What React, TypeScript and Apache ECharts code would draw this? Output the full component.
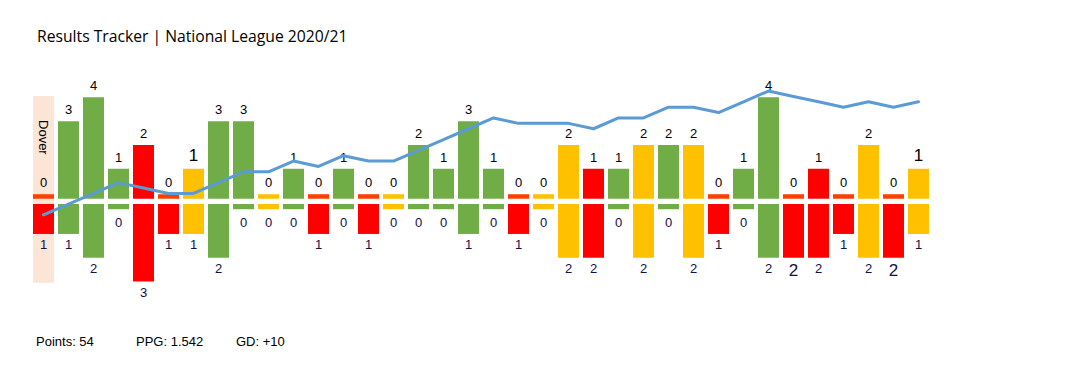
import React, { useEffect, useRef } from "react";
import * as echarts from "echarts";

// ---- data ----
const matches = Array.from({ length: 36 }, (_, i) => String(i + 1));
const goalsFor = [0, 3, 4, 1, 2, 0, 1, 3, 3, 0, 1, 0, 1, 0, 0, 2, 1, 3, 1, 0, 0, 2, 1, 1, 2, 2, 2, 0, 1, 4, 0, 1, 0, 2, 0, 1];
const goalsAgainst = [1, 1, 2, 0, 3, 1, 1, 2, 0, 0, 0, 1, 0, 1, 0, 0, 0, 1, 0, 1, 0, 2, 2, 0, 2, 0, 2, 1, 0, 2, 2, 2, 1, 2, 2, 1];
const results = ["L", "W", "W", "W", "L", "L", "D", "W", "W", "D", "W", "L", "W", "L", "D", "W", "W", "W", "W", "L", "D", "D", "L", "W", "D", "W", "D", "L", "W", "W", "L", "L", "L", "D", "L", "D"];
const formLine = [-1, 1, 3, 5, 4, 3, 3, 5, 7, 7, 9, 8, 10, 9, 9, 11, 13, 15, 17, 16, 16, 16, 15, 17, 17, 19, 19, 18, 20, 22, 21, 20, 19, 20, 19, 20];
const highlightIndex = 0;
const highlightOpponent = "Dover";
const titleText = "Results Tracker | National League 2020/21";
const points = 54;
const ppg = "1.542";
const gd = "+10";

// ---- styles ----
const resultColor: Record<string, string> = { W: "#70AD47", L: "#FF0000", D: "#FFC000" };
const zeroLossColor = "#FF3F00";
const bigTop = new Set([6, 35]);
const bigBottom = new Set([30, 34]);
const FONT = "'Liberation Sans', Arial, sans-serif";

export default function App() {
  const ref = useRef<HTMLDivElement>(null);
  useEffect(() => {
    document.body.style.margin = "0";
    document.body.style.overflow = "hidden";
    const chart = echarts.init(ref.current!, undefined, { renderer: "svg" });
    const BW = 21;
    const upColor = (i: number) =>
      goalsFor[i] === 0 && results[i] === "L" ? zeroLossColor : resultColor[results[i]];
    const option: any = {
      animation: false,
      backgroundColor: "#ffffff",
      title: {
        text: titleText,
        left: 37,
        top: 28,
        padding: 0,
        textStyle: { fontFamily: "'Open Sans', sans-serif", fontSize: 15.7, fontWeight: "normal", color: "#000" },
      },
      grid: { left: 31, width: 900, top: 60, height: 260 },
      xAxis: { type: "category", data: matches, show: false },
      yAxis: [
        { type: "value", min: -4.985, max: 5.939, show: false },
        { type: "value", min: -20.482, max: 27.755, show: false },
      ],
      series: [
        {
          type: "bar", stack: "hl", barWidth: BW, barGap: "-100%",
          data: matches.map((_, i) => (i === highlightIndex ? 4.426 : "-")),
          itemStyle: { color: "#FBE5D6" },
          label: {
            show: true, position: "insideTop", distance: 24, rotate: -90,
            align: "left", verticalAlign: "middle",
            formatter: () => highlightOpponent,
            fontFamily: FONT, fontSize: 13, color: "#000",
          },
        },
        {
          type: "bar", stack: "hl", barWidth: BW, barGap: "-100%",
          data: matches.map((_, i) => (i === highlightIndex ? -3.418 : "-")),
          itemStyle: { color: "#FBE5D6" },
        },
        {
          type: "bar", stack: "up", barWidth: BW, barGap: "-100%",
          data: matches.map(() => 0.11),
          itemStyle: { color: "transparent" },
        },
        {
          type: "bar", stack: "up", barWidth: BW, barGap: "-100%",
          data: goalsFor.map((g, i) => ({
            value: g > 0 ? g + 0.26 : 0.19,
            itemStyle: { color: upColor(i) },
            label: bigTop.has(i) ? { fontSize: 17 } : undefined,
          })),
          label: {
            show: true, position: "top", distance: 5,
            formatter: (p: any) => String(goalsFor[p.dataIndex]),
            fontFamily: FONT, fontSize: 13, color: "#000",
          },
        },
        {
          type: "bar", stack: "down", barWidth: BW, barGap: "-100%",
          data: matches.map(() => -0.11),
          itemStyle: { color: "transparent" },
        },
        {
          type: "bar", stack: "down", barWidth: BW, barGap: "-100%",
          data: goalsAgainst.map((g, i) => ({
            value: g > 0 ? -(g + 0.26) : -0.22,
            itemStyle: { color: resultColor[results[i]] },
            label: {
              distance: g > 0 ? 4 : 7,
              ...(bigBottom.has(i) ? { fontSize: 17 } : {}),
            },
          })),
          label: {
            show: true, position: "bottom", distance: 4,
            formatter: (p: any) => String(goalsAgainst[p.dataIndex]),
            fontFamily: FONT, fontSize: 13, color: "#10104a",
          },
        },
        {
          type: "line", yAxisIndex: 1, data: formLine, symbol: "none", z: 5,
          lineStyle: { color: "#5B9BD5", width: 3, join: "round", cap: "round" },
        },
      ],
      graphic: [
        { type: "text", left: 36, top: 335, style: { text: `Points: ${points}`, font: `13px ${FONT}`, fill: "#000" } },
        { type: "text", left: 136, top: 335, style: { text: `PPG: ${ppg}`, font: `13px ${FONT}`, fill: "#000" } },
        { type: "text", left: 236, top: 335, style: { text: `GD: ${gd}`, font: `13px ${FONT}`, fill: "#000" } },
      ],
    };
    chart.setOption(option);
    return () => chart.dispose();
  }, []);
  return <div ref={ref} style={{ width: 1080, height: 379 }} />;
}
